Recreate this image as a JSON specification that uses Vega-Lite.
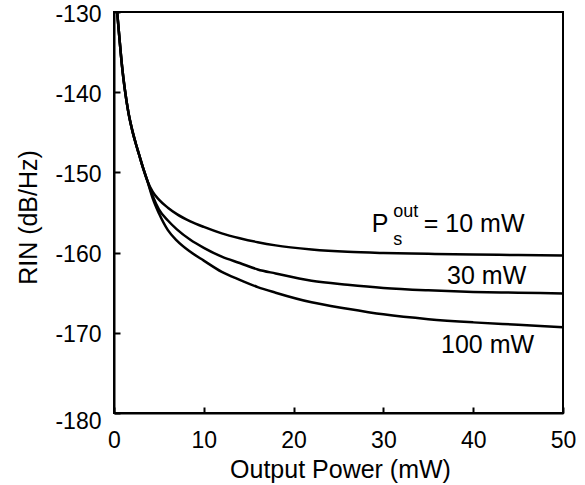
{
  "$schema": "https://vega.github.io/schema/vega-lite/v6.json",
  "width": 449,
  "height": 401,
  "autosize": "none",
  "padding": {"left": 114, "top": 12, "right": 22, "bottom": 72},
  "background": "white",
  "config": {
    "view": {"stroke": "black", "strokeWidth": 2},
    "font": "Liberation Sans",
    "axis": {
      "domainColor": "black", "domainWidth": 2,
      "tickColor": "black", "tickWidth": 2,
      "labelColor": "black", "labelFont": "Liberation Sans", "labelFontSize": 23,
      "titleColor": "black", "titleFont": "Liberation Sans", "titleFontSize": 25, "titleFontWeight": "normal",
      "grid": false
    }
  },
  "layer": [
    {
      "data": {"values": [
        {"s": "10", "p": 0.35, "rin": -130}, {"s": "10", "p": 0.6, "rin": -133.2}, {"s": "10", "p": 0.9, "rin": -136.8}, {"s": "10", "p": 1.2, "rin": -139.6}, {"s": "10", "p": 1.6, "rin": -142.5}, {"s": "10", "p": 2.0, "rin": -144.6}, {"s": "10", "p": 2.4, "rin": -146.3}, {"s": "10", "p": 2.8, "rin": -147.8}, {"s": "10", "p": 3.2, "rin": -149.3}, {"s": "10", "p": 3.7, "rin": -151.0},
        {"s": "10", "p": 4.3, "rin": -152.4}, {"s": "10", "p": 5.0, "rin": -153.4}, {"s": "10", "p": 6.0, "rin": -154.4}, {"s": "10", "p": 7.0, "rin": -155.2}, {"s": "10", "p": 8.5, "rin": -156.1}, {"s": "10", "p": 10, "rin": -156.8}, {"s": "10", "p": 12, "rin": -157.6}, {"s": "10", "p": 14, "rin": -158.2}, {"s": "10", "p": 16, "rin": -158.7}, {"s": "10", "p": 18, "rin": -159.1}, {"s": "10", "p": 22, "rin": -159.6}, {"s": "10", "p": 26, "rin": -159.9}, {"s": "10", "p": 30, "rin": -160.05}, {"s": "10", "p": 35, "rin": -160.15}, {"s": "10", "p": 40, "rin": -160.25}, {"s": "10", "p": 45, "rin": -160.3}, {"s": "10", "p": 50, "rin": -160.35},
        {"s": "30", "p": 0.35, "rin": -130}, {"s": "30", "p": 0.6, "rin": -133.2}, {"s": "30", "p": 0.9, "rin": -136.8}, {"s": "30", "p": 1.2, "rin": -139.6}, {"s": "30", "p": 1.6, "rin": -142.5}, {"s": "30", "p": 2.0, "rin": -144.6}, {"s": "30", "p": 2.4, "rin": -146.3}, {"s": "30", "p": 2.8, "rin": -147.8}, {"s": "30", "p": 3.2, "rin": -149.3}, {"s": "30", "p": 3.7, "rin": -151.0},
        {"s": "30", "p": 4.3, "rin": -152.9}, {"s": "30", "p": 5.0, "rin": -154.6}, {"s": "30", "p": 6.0, "rin": -156.0}, {"s": "30", "p": 7.0, "rin": -157.1}, {"s": "30", "p": 8.5, "rin": -158.4}, {"s": "30", "p": 10, "rin": -159.4}, {"s": "30", "p": 12, "rin": -160.5}, {"s": "30", "p": 14, "rin": -161.3}, {"s": "30", "p": 16, "rin": -162.1}, {"s": "30", "p": 18, "rin": -162.6}, {"s": "30", "p": 22, "rin": -163.5}, {"s": "30", "p": 26, "rin": -164.0}, {"s": "30", "p": 30, "rin": -164.4}, {"s": "30", "p": 35, "rin": -164.7}, {"s": "30", "p": 40, "rin": -164.9}, {"s": "30", "p": 45, "rin": -165.0}, {"s": "30", "p": 50, "rin": -165.1},
        {"s": "100", "p": 0.35, "rin": -130}, {"s": "100", "p": 0.6, "rin": -133.2}, {"s": "100", "p": 0.9, "rin": -136.8}, {"s": "100", "p": 1.2, "rin": -139.6}, {"s": "100", "p": 1.6, "rin": -142.5}, {"s": "100", "p": 2.0, "rin": -144.6}, {"s": "100", "p": 2.4, "rin": -146.3}, {"s": "100", "p": 2.8, "rin": -147.8}, {"s": "100", "p": 3.2, "rin": -149.3}, {"s": "100", "p": 3.7, "rin": -151.0},
        {"s": "100", "p": 4.3, "rin": -153.2}, {"s": "100", "p": 5.0, "rin": -155.1}, {"s": "100", "p": 6.0, "rin": -157.2}, {"s": "100", "p": 7.0, "rin": -158.5}, {"s": "100", "p": 8.5, "rin": -159.9}, {"s": "100", "p": 10, "rin": -161.0}, {"s": "100", "p": 12, "rin": -162.4}, {"s": "100", "p": 14, "rin": -163.4}, {"s": "100", "p": 16, "rin": -164.3}, {"s": "100", "p": 18, "rin": -165.0}, {"s": "100", "p": 22, "rin": -166.2}, {"s": "100", "p": 26, "rin": -167.0}, {"s": "100", "p": 30, "rin": -167.7}, {"s": "100", "p": 35, "rin": -168.3}, {"s": "100", "p": 40, "rin": -168.7}, {"s": "100", "p": 45, "rin": -169.0}, {"s": "100", "p": 50, "rin": -169.3}
      ]},
      "mark": {"type": "line", "color": "black", "strokeWidth": 2.5, "interpolate": "monotone", "clip": true},
      "encoding": {
        "x": {"field": "p", "type": "quantitative",
          "scale": {"domain": [0, 50], "nice": false, "zero": false},
          "axis": {"title": "Output Power (mW)", "values": [0, 10, 20, 30, 40, 50], "tickSize": -6, "labelPadding": 22, "labelFlush": false,
            "titleY": 64, "titleBaseline": "alphabetic", "titleX": 226}},
        "y": {"field": "rin", "type": "quantitative",
          "scale": {"domain": [-180, -130], "nice": false, "zero": false},
          "axis": {"title": "RIN (dB/Hz)", "values": [-180, -170, -160, -150, -140, -130], "tickSize": -6, "labelPadding": 19,
            "labelExpr": "'' + datum.value",
            "labelOffset": {"condition": {"test": "datum.value == -180", "value": 8}, "value": 2},
            "titleX": -86, "titleY": 205, "titleAngle": -90, "titleAlign": "center", "titleBaseline": "middle"}},
        "detail": {"field": "s", "type": "nominal"}
      }
    },
    {
      "data": {"values": [{"label": "30 mW", "p": 41.5, "rin": -162.9}, {"label": "100 mW", "p": 41.6, "rin": -171.5}]},
      "mark": {"type": "text", "fontSize": 25, "font": "Liberation Sans", "color": "black", "align": "center", "baseline": "middle"},
      "encoding": {"x": {"field": "p", "type": "quantitative"}, "y": {"field": "rin", "type": "quantitative"}, "text": {"field": "label"}}
    },
    {
      "data": {"values": [{"label": "P", "p": 28.7, "rin": -156.4}, {"label": "= 10 mW", "p": 34.5, "rin": -156.4}]},
      "mark": {"type": "text", "fontSize": 25, "font": "Liberation Sans", "color": "black", "align": "left", "baseline": "middle"},
      "encoding": {"x": {"field": "p", "type": "quantitative"}, "y": {"field": "rin", "type": "quantitative"}, "text": {"field": "label"}}
    },
    {
      "data": {"values": [{"label": "out", "p": 31.1, "rin": -154.9}, {"label": "s", "p": 31.1, "rin": -158.4}]},
      "mark": {"type": "text", "fontSize": 18, "font": "Liberation Sans", "color": "black", "align": "left", "baseline": "middle"},
      "encoding": {"x": {"field": "p", "type": "quantitative"}, "y": {"field": "rin", "type": "quantitative"}, "text": {"field": "label"}}
    }
  ]
}
